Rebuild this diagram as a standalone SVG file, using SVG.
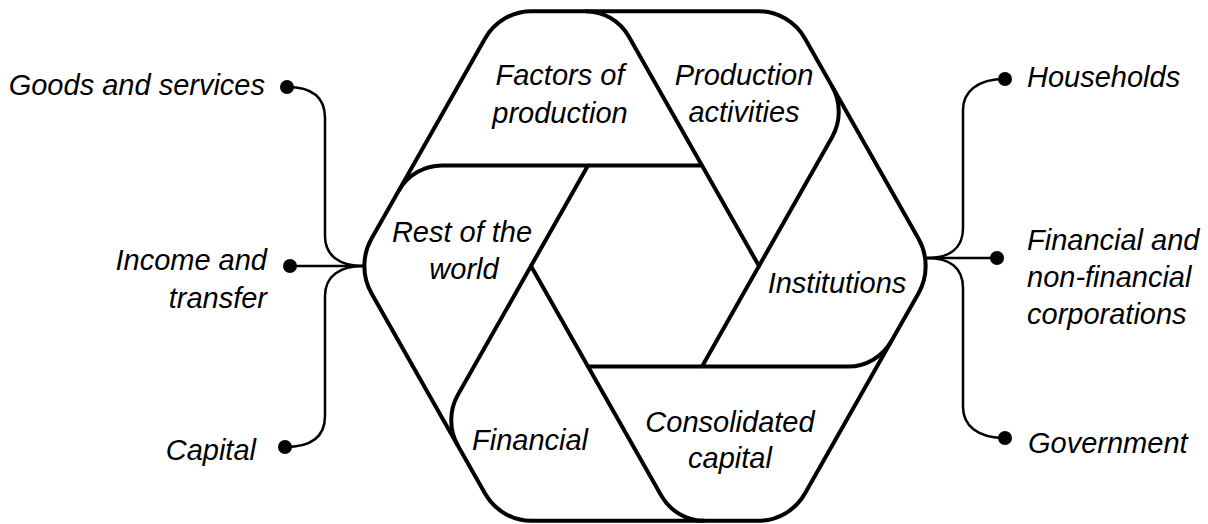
<svg xmlns="http://www.w3.org/2000/svg" width="1208" height="524" viewBox="0 0 1208 524">
<defs>
<path id="piece" d="M -246.43 -73.73 L -160.09 -223.28 A 54 54 0 0 1 -113.32 -250.28 L -59.37 -250.28 A 50 50 0 0 1 -16.07 -225.28 L 57 -98.73 L -57 -98.73"/>
</defs>
<style>
.pc{fill:none;stroke:#000;stroke-width:4;stroke-linejoin:round;stroke-linecap:butt}
text{font-family:"Liberation Sans",Arial,sans-serif;font-style:italic;font-size:29px;fill:#000}
.c{text-anchor:middle}
.e{text-anchor:end}
.cn{fill:none;stroke:#000;stroke-width:2.5}
.dot{fill:#000}
</style>
<rect width="1208" height="524" fill="#fff"/>
<g id="factors">
<use href="#piece" class="pc" transform="translate(645 266) scale(1 1.018) rotate(0)"/>
<text class="c" x="560" y="85">Factors of</text>
<text class="c" x="560" y="123">production</text>
</g>
<g id="production">
<use href="#piece" class="pc" transform="translate(645 266) scale(1 1.018) rotate(60)"/>
<text class="c" x="744" y="85">Production</text>
<text class="c" x="744" y="122">activities</text>
</g>
<g id="institutions">
<use href="#piece" class="pc" transform="translate(645 266) scale(1 1.018) rotate(120)"/>
<text class="c" x="837" y="293">Institutions</text>
</g>
<g id="consolidated">
<use href="#piece" class="pc" transform="translate(645 266) scale(1 1.018) rotate(180)"/>
<text class="c" x="730" y="432">Consolidated</text>
<text class="c" x="730" y="468">capital</text>
</g>
<g id="financial">
<use href="#piece" class="pc" transform="translate(645 266) scale(1 1.018) rotate(240)"/>
<text class="c" x="530" y="450">Financial</text>
</g>
<g id="rest">
<use href="#piece" class="pc" transform="translate(645 266) scale(1 1.018) rotate(300)"/>
<text class="c" x="462" y="242">Rest of the</text>
<text class="c" x="464" y="279">world</text>
</g>
<g id="connectors">
<path class="cn" d="M 287 87 C 315 87 325 100 325 118 L 325 236 C 325 256 340 266 363 266"/>
<path class="cn" d="M 290 266 L 363 266"/>
<path class="cn" d="M 285 447 C 315 447 325 434 325 416 L 325 296 C 325 276 340 266 363 266"/>
<path class="cn" d="M 1005 79 C 977 79 963 92 963 110 L 963 228 C 963 248 950 258 927 258"/>
<path class="cn" d="M 997 258 L 927 258"/>
<path class="cn" d="M 1005 438 C 977 438 963 425 963 407 L 963 288 C 963 268 950 258 927 258"/>
<circle class="dot" cx="287" cy="87" r="7"/>
<circle class="dot" cx="290" cy="266" r="7"/>
<circle class="dot" cx="285" cy="447" r="7"/>
<circle class="dot" cx="1005" cy="79" r="7"/>
<circle class="dot" cx="997" cy="258" r="7"/>
<circle class="dot" cx="1005" cy="438" r="7"/>
</g>
<g id="left-labels">
<text class="e" x="265" y="95">Goods and services</text>
<text class="e" x="267" y="270">Income and</text>
<text class="e" x="267" y="308">transfer</text>
<text class="e" x="256" y="460">Capital</text>
</g>
<g id="right-labels">
<text x="1027" y="87">Households</text>
<text x="1027" y="250">Financial and</text>
<text x="1027" y="287">non-financial</text>
<text x="1027" y="324">corporations</text>
<text x="1028" y="453">Government</text>
</g>
</svg>
